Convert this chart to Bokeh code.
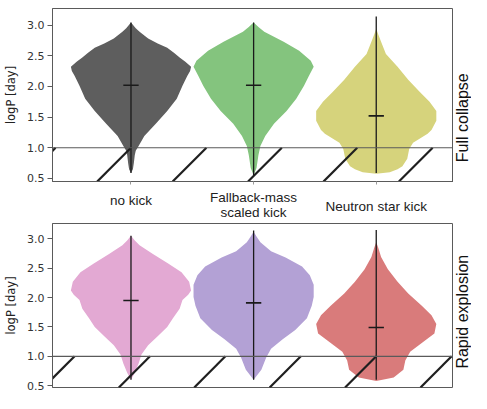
import math
import numpy as np
from bokeh.plotting import figure
from bokeh.models import Span, FixedTicker, NumeralTickFormatter
from bokeh.core.properties import value
from bokeh.layouts import column, row
from bokeh.embed import file_html
from bokeh.resources import INLINE

# ---------------- data ----------------
categories = ["no kick", "Fallback-mass\nscaled kick", "Neutron star kick"]
panel_titles = ["Full collapse", "Rapid explosion"]
y_ticks = [0.5, 1.0, 1.5, 2.0, 2.5, 3.0]

# Full collapse: violin profiles (logP values and relative density)
fc_nk_y = [0.59, 0.65, 0.75, 0.88, 0.95, 1.03, 1.19, 1.39, 1.60, 1.80, 2.01, 2.17, 2.25, 2.32, 2.40, 2.47, 2.55, 2.63, 2.70, 2.78, 2.89, 2.95, 3.04]
fc_nk_w = [0, 2, 3, 4, 5, 8, 14, 26, 38, 48, 54, 59, 62, 63, 57, 51, 45, 38, 28, 18, 9, 5, 0]
fc_fb_y = [0.55, 0.67, 0.88, 1.03, 1.19, 1.39, 1.60, 1.80, 2.01, 2.17, 2.32, 2.42, 2.58, 2.73, 2.89, 2.97, 3.04]
fc_fb_w = [0, 3, 5, 7, 12, 21, 34, 44, 52, 57, 62, 59, 47, 31, 11, 5, 0]
fc_ns_y = [0.575, 0.60, 0.65, 0.70, 0.82, 0.98, 1.08, 1.23, 1.29, 1.44, 1.60, 1.75, 1.91, 2.11, 2.32, 2.53, 2.73, 2.85, 2.94]
fc_ns_w = [0, 14, 22, 27, 32, 34, 38, 53, 57, 62, 62, 55, 45, 33, 22, 10, 5, 2, 0]
fc_min = [0.59, 0.55, 0.59]
fc_max = [3.04, 3.04, 3.14]
fc_median = [2.02, 2.02, 1.52]

# Rapid explosion
re_nk_y = [0.60, 0.72, 0.88, 1.03, 1.19, 1.34, 1.50, 1.65, 1.81, 1.96, 2.05, 2.12, 2.27, 2.43, 2.58, 2.74, 2.89, 2.97, 3.05]
re_nk_w = [0, 4, 8, 11, 18, 28, 38, 44, 51, 54, 60, 63, 61, 53, 39, 23, 9, 4, 0]
re_fb_y = [0.60, 0.77, 0.98, 1.13, 1.29, 1.45, 1.65, 1.86, 2.01, 2.22, 2.38, 2.53, 2.68, 2.79, 2.94, 3.04, 3.12]
re_fb_w = [0, 8, 13, 18, 30, 43, 55, 60, 62, 62, 58, 50, 33, 18, 7, 3, 0]
re_ns_y = [0.58, 0.64, 0.77, 0.93, 1.08, 1.24, 1.39, 1.55, 1.70, 1.86, 2.07, 2.27, 2.48, 2.69, 2.85, 2.94]
re_ns_w = [0, 18, 28, 30, 35, 48, 60, 62, 57, 47, 33, 22, 12, 5, 2, 0]
re_min = [0.60, 0.60, 0.60]
re_max = [3.05, 3.14, 3.15]
re_median = [1.95, 1.91, 1.49]

threshold = 1.0

# ---------------- style / layout ----------------
fc_colors = ["#5e5e5e", "#84c47e", "#d6d37c"]
re_colors = ["#e3a9d3", "#b3a1d5", "#d97b7b"]
PW, TW = 453, 18          # panel figure width, title strip width
BL = 52                   # left border (y axis)
TOP1, F1, B1 = 8, 173, 6  # top panel: borders and frame height
SH = 36                   # category strip height
F2, BOT2 = 164, 6         # bottom panel: frame height, bottom border
XS, XE = 0.36, 3.63
HALF_MAX = 0.49
MED_HALF = 0.0625
HATCH_SPACING = 0.615
LABEL_DROP_PX = [13, 17.5, 19]
TITLE_Y = [1.49, 1.76]
TICK_FONT = "DejaVu Sans"
TEXT_FONT = "Liberation Sans"
FRAME_COL = "#5a5a5a"


def make_panel(top_border, frame_h, bottom_border, y_range, profiles, mins, maxs, meds,
               colors, hatch_anchor, show_xticks, x_range=None):
    height = top_border + frame_h + bottom_border
    p = figure(width=PW, height=height, x_range=x_range if x_range else (XS, XE),
               y_range=y_range, output_backend="svg", toolbar_location=None)
    p.min_border_left = BL
    p.min_border_right = 0
    p.min_border_top = top_border
    p.min_border_bottom = bottom_border
    p.xgrid.visible = False
    p.ygrid.visible = False
    p.outline_line_color = FRAME_COL
    p.outline_line_width = 1

    xa = p.xaxis[0]
    if show_xticks:
        xa.ticker = FixedTicker(ticks=[1, 2, 3])
        xa.major_label_overrides = {1: "", 2: "", 3: ""}
        xa.major_label_text_font_size = "0px"
        xa.major_label_standoff = 0
        xa.major_tick_in = 0
        xa.major_tick_out = 3
        xa.major_tick_line_color = "#999999"
        xa.minor_tick_line_color = None
        xa.axis_line_color = FRAME_COL
    else:
        xa.visible = False

    frame_w = PW - BL
    ppx = frame_w / (XE - XS)
    ppy = frame_h / (y_range[1] - y_range[0])

    ya = p.yaxis[0]
    ya.ticker = FixedTicker(ticks=y_ticks)
    ya.formatter = NumeralTickFormatter(format="0.0")
    ya.axis_label = "logP [day]"
    ya.axis_label_text_font = TICK_FONT
    ya.axis_label_text_font_size = "11.5px"
    ya.axis_label_text_font_style = "normal"
    ya.axis_label_text_color = "#222222"
    ya.axis_label_standoff = 6
    ya.major_label_text_font = TICK_FONT
    ya.major_label_text_font_size = "11px"
    ya.major_label_text_color = "#333333"
    ya.major_label_standoff = 3
    ya.major_tick_in = 0
    ya.major_tick_out = 5
    ya.major_tick_line_color = FRAME_COL
    ya.minor_tick_line_color = None
    ya.axis_line_color = FRAME_COL

    for i, ((ys, ws), c) in enumerate(zip(profiles, colors)):
        ys = np.asarray(ys, float)
        ws = np.asarray(ws, float)
        half = ws / ws.max() * HALF_MAX
        cx = i + 1
        p.harea(x1=cx - half, x2=cx + half, y=ys, fill_color=c, fill_alpha=1.0)

    xs = [1, 2, 3]
    p.segment(x0=xs, y0=mins, x1=xs, y1=maxs, line_color="#1a1a1a", line_width=1.3)
    p.segment(x0=[x - MED_HALF for x in xs], y0=meds, x1=[x + MED_HALF for x in xs],
              y1=meds, line_color="#1a1a1a", line_width=1.6)

    p.add_layout(Span(location=threshold, dimension="width", line_color=FRAME_COL,
                      line_width=1.2))
    y0 = y_range[0]
    dx = (threshold - y0) * ppy / ppx
    ks = np.arange(-8, 9)
    tops = hatch_anchor + ks * HATCH_SPACING
    p.segment(x0=tops - dx, y0=[y0] * len(ks), x1=tops, y1=[threshold] * len(ks),
              line_color="#1f1f1f", line_width=2.2)
    return p


def make_title(panel, top_border, bottom_border, text, ty):
    t = figure(width=TW, height=panel.height, x_range=(0, 1), y_range=panel.y_range,
               output_backend="svg", toolbar_location=None,
               x_axis_location=None, y_axis_location=None)
    t.min_border_left = 0
    t.min_border_right = 0
    t.min_border_top = top_border
    t.min_border_bottom = bottom_border
    t.outline_line_color = None
    t.xgrid.visible = False
    t.ygrid.visible = False
    t.text(x=[0.5], y=[ty], text=[text], angle=math.pi / 2, text_align="center",
           text_baseline="middle", text_font=value(TEXT_FONT), text_font_size="16px",
           text_color="#111111")
    return t


p1 = make_panel(TOP1, F1, B1, (0.45, 3.27),
                [(fc_nk_y, fc_nk_w), (fc_fb_y, fc_fb_w), (fc_ns_y, fc_ns_w)],
                fc_min, fc_max, fc_median, fc_colors, 1.0, True)
p2 = make_panel(0, F2, BOT2, (0.47, 3.26),
                [(re_nk_y, re_nk_w), (re_fb_y, re_fb_w), (re_ns_y, re_ns_w)],
                re_min, re_max, re_median, re_colors, 3.0, False, x_range=p1.x_range)
t1 = make_title(p1, TOP1, B1, panel_titles[0], TITLE_Y[0])
t2 = make_title(p2, 0, BOT2, panel_titles[1], TITLE_Y[1])

# category label strip between the panels
s = figure(width=PW, height=SH, x_range=p1.x_range, y_range=(0, SH),
           output_backend="svg", toolbar_location=None,
           x_axis_location=None, y_axis_location=None)
s.min_border_left = BL
s.min_border_right = 0
s.min_border_top = 0
s.min_border_bottom = 0
s.outline_line_color = None
s.xgrid.visible = False
s.ygrid.visible = False
cat_x = [1, 2, 3]
s.text(x=cat_x, y=[SH - d for d in LABEL_DROP_PX], text=categories, text_align="center",
       text_baseline="middle", text_font=value(TEXT_FONT), text_font_size="13.5px",
       text_line_height=1.05, text_color="#222222")

layout = column(row(p1, t1), s, row(p2, t2))
open("out.html", "w").write(file_html(layout, INLINE))
